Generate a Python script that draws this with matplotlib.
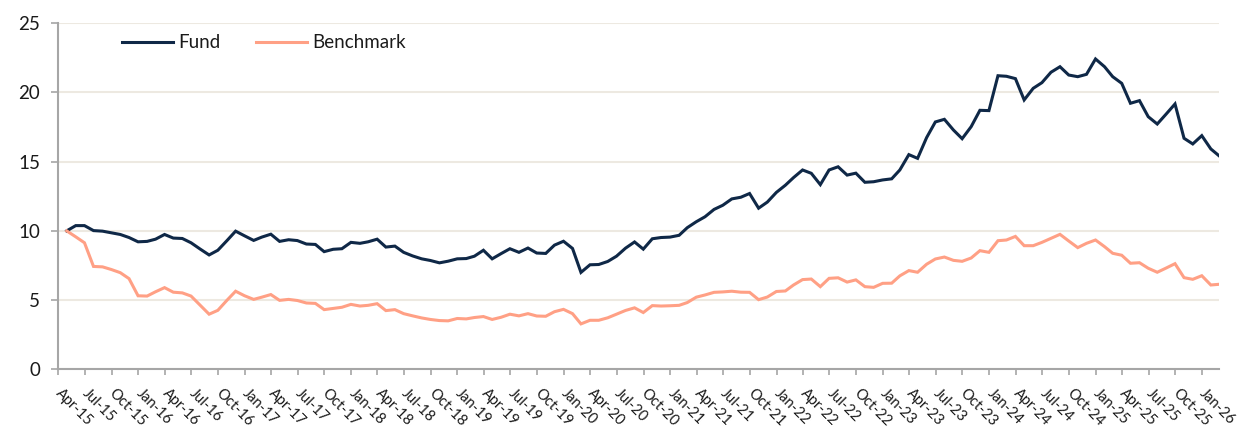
import numpy as np
import pandas as pd
import matplotlib
matplotlib.use("Agg")
import matplotlib.pyplot as plt
import matplotlib.dates as mdates

plt.rcParams['font.family'] = ['Lato', 'DejaVu Sans']

# monthly values, month-end Apr-15 .. Feb-26
dates = pd.date_range("2015-04-30", "2026-02-28", freq="ME")

fund = [10.0, 10.38, 10.38, 10.02, 9.98, 9.86, 9.74, 9.52, 9.21, 9.24,
        9.40, 9.74, 9.48, 9.45, 9.14, 8.69, 8.26, 8.6, 9.29, 9.98,
        9.64, 9.31, 9.55, 9.76, 9.24, 9.36, 9.30, 9.05, 9.02, 8.5,
        8.67, 8.71, 9.17, 9.10, 9.21, 9.40, 8.83, 8.90, 8.45, 8.19,
        7.98, 7.86, 7.69, 7.81, 7.98, 8.0, 8.17, 8.60, 7.98, 8.36,
        8.71, 8.45, 8.76, 8.40, 8.37, 8.97, 9.25, 8.73, 7.0, 7.55,
        7.57, 7.79, 8.17, 8.75, 9.2, 8.68, 9.43, 9.52, 9.55, 9.68,
        10.23, 10.66, 11.02, 11.55, 11.85, 12.31, 12.43, 12.70, 11.64, 12.08,
        12.78, 13.3, 13.85, 14.40, 14.16, 13.34, 14.40, 14.63, 14.03, 14.17,
        13.51, 13.55, 13.68, 13.76, 14.40, 15.51, 15.24, 16.74, 17.87, 18.06,
        17.29, 16.66, 17.53, 18.71, 18.69, 21.21, 21.17, 21.0, 19.46, 20.30,
        20.71, 21.46, 21.86, 21.26, 21.14, 21.31, 22.42, 21.86, 21.14, 20.66,
        19.22, 19.41, 18.25, 17.72, 18.45, 19.17, 16.69, 16.28, 16.88, 15.92,
        15.43]

benchmark = [10.0, 9.57, 9.14, 7.43, 7.40, 7.21, 6.98, 6.55, 5.31, 5.29,
             5.60, 5.90, 5.57, 5.52, 5.29, 4.64, 3.98, 4.26, 4.98, 5.64,
             5.31, 5.05, 5.21, 5.40, 4.98, 5.05, 4.97, 4.79, 4.76, 4.31,
             4.40, 4.48, 4.69, 4.57, 4.62, 4.74, 4.24, 4.31, 4.02, 3.86,
             3.71, 3.60, 3.52, 3.50, 3.67, 3.64, 3.74, 3.81, 3.60, 3.76,
             3.98, 3.86, 4.02, 3.85, 3.83, 4.16, 4.33, 4.02, 3.28, 3.54,
             3.54, 3.72, 3.98, 4.25, 4.44, 4.10, 4.60, 4.57, 4.59, 4.62,
             4.82, 5.21, 5.37, 5.56, 5.59, 5.64, 5.57, 5.56, 5.03, 5.22,
             5.62, 5.66, 6.09, 6.48, 6.52, 5.97, 6.57, 6.61, 6.30, 6.46,
             5.97, 5.92, 6.21, 6.22, 6.75, 7.13, 7.01, 7.59, 7.97, 8.11,
             7.87, 7.80, 8.04, 8.57, 8.45, 9.29, 9.34, 9.60, 8.93, 8.93,
             9.17, 9.46, 9.75, 9.27, 8.79, 9.10, 9.34, 8.86, 8.38, 8.24,
             7.66, 7.70, 7.30, 7.01, 7.32, 7.63, 6.62, 6.50, 6.76, 6.09,
             6.14]

fund_color = "#0F2847"
bench_color = "#FFA085"
grid_color = "#EDE9E1"
axis_color = "#A6A6A6"

fig = plt.figure(figsize=(12.45, 4.3), dpi=100)
ax = fig.add_axes([0.0468, 0.1412, 0.9323, 0.8047])

ax.plot(dates, fund, color=fund_color, lw=2.2, label="Fund", solid_joinstyle="miter")
ax.plot(dates, benchmark, color=bench_color, lw=2.2, label="Benchmark", solid_joinstyle="miter")

ax.set_ylim(0, 25)
ax.set_yticks(np.arange(0, 26, 5))
ax.set_xlim(pd.Timestamp("2015-04-01"), pd.Timestamp("2026-02-28"))
ax.xaxis.set_major_locator(mdates.MonthLocator(bymonth=[1, 4, 7, 10], bymonthday=1))
ax.xaxis.set_major_formatter(mdates.DateFormatter("%b-%y"))

ax.grid(axis="y", color=grid_color, lw=1.5)
ax.set_axisbelow(True)
for s in ["top", "right"]:
    ax.spines[s].set_visible(False)
for s in ["left", "bottom"]:
    ax.spines[s].set_color(axis_color)
    ax.spines[s].set_linewidth(1.5)

ax.tick_params(axis="y", length=5, width=1.2, color=axis_color, pad=8,
               labelsize=13.5, labelcolor="#1A1A1A")
ax.tick_params(axis="x", length=4, width=1.2, color=axis_color, pad=12,
               labelsize=10.5, labelcolor="#1A1A1A")
plt.setp(ax.get_xticklabels(), rotation=-45, ha="left", va="center", rotation_mode="anchor")

leg = ax.legend(loc="center left", bbox_to_anchor=(0.055, 0.943), ncol=2, frameon=False,
                fontsize=13.5, handlelength=2.7, columnspacing=1.9, handletextpad=0.3,
                borderpad=0, borderaxespad=0)
for t in leg.get_texts():
    t.set_color("#1A1A1A")

fig.savefig("out.png", dpi=100)
